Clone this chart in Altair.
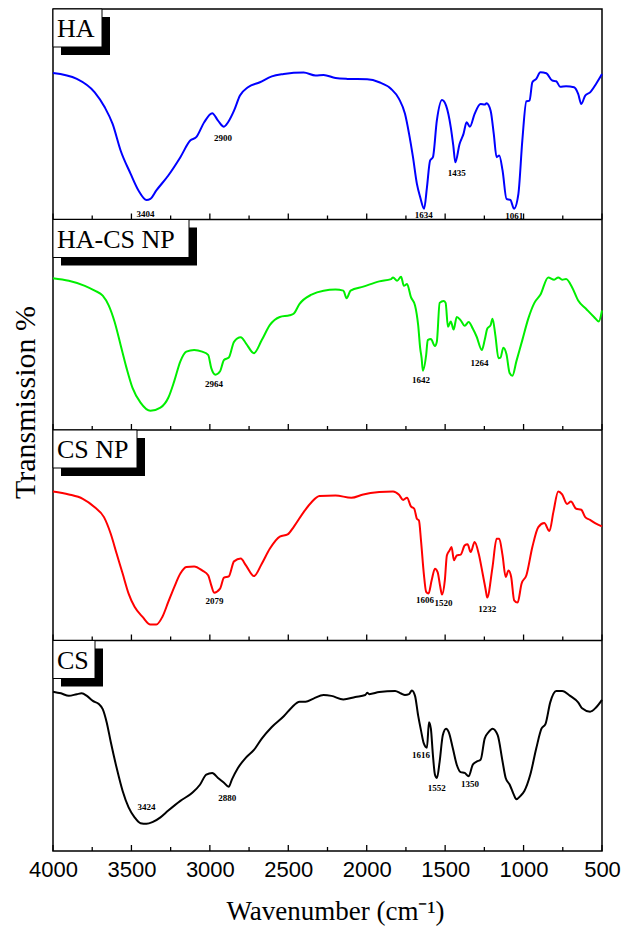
import altair as alt
import pandas as pd

# ---------------- data ----------------
series_names = ["HA", "HA-CS NP", "CS NP", "CS"]
series_colors = ["#0000FF", "#00EE00", "#FF0000", "#000000"]
panel_offsets = [300, 200, 100, 0]

ha_wn = [4000, 3848, 3734, 3670, 3620, 3569, 3505, 3455, 3404, 3379, 3341, 3265, 3188, 3125, 3087,
         3036, 2985, 2948, 2910, 2884, 2846, 2808, 2757, 2681, 2605, 2529, 2402, 2326, 2275, 2199,
         2123, 1997, 1920, 1844, 1794, 1756, 1730, 1705, 1680, 1659, 1634, 1616, 1596, 1578, 1553,
         1520, 1494, 1464, 1448, 1435, 1408, 1383, 1363, 1342, 1312, 1274, 1248, 1236, 1210, 1190,
         1172, 1155, 1134, 1109, 1084, 1061, 1033, 1008, 982, 962, 944, 919, 893, 855, 817,
         792, 767, 729, 678, 652, 632, 607, 576, 538, 500]
ha_val = [69.6, 66.8, 60.4, 53.3, 45.4, 32.8, 21.7, 13.8, 9.3, 9.8, 13.8, 20.9, 29.6, 37.5, 39.1,
          46.2, 50.5, 47.0, 44.1, 46.2, 51.7, 58.9, 62.8, 65.2, 68.0, 69.1, 69.8, 68.4, 68.7, 67.2,
          66.8, 66.6, 65.2, 62.0, 57.3, 50.2, 40.7, 29.6, 16.9, 10.6, 5.1, 15.3, 28.0, 29.6, 47.0,
          56.8, 54.1, 43.8, 35.1, 27.2, 35.9, 40.7, 46.2, 44.1, 50.2, 54.9, 54.6, 55.2, 51.7, 40.7,
          29.6, 30.4, 23.3, 9.8, 9.3, 5.1, 12.2, 37.5, 56.2, 56.5, 65.2, 66.8, 69.9, 69.5, 66.0,
          65.7, 63.1, 63.3, 62.8, 59.7, 54.9, 58.9, 60.4, 64.4, 69.1]

hacs_wn = [4000, 3899, 3797, 3734, 3683, 3645, 3607, 3569, 3531, 3493, 3442, 3379, 3315, 3265, 3227,
           3188, 3150, 3100, 3049, 3011, 2991, 2964, 2935, 2910, 2879, 2846, 2803, 2770, 2719, 2669,
           2618, 2554, 2491, 2466, 2428, 2352, 2275, 2199, 2149, 2128, 2103, 2022, 1920, 1844, 1832,
           1806, 1781, 1763, 1743, 1718, 1692, 1672, 1659, 1650, 1642, 1621, 1611, 1591, 1565, 1553,
           1535, 1510, 1497, 1482, 1464, 1446, 1426, 1401, 1375, 1350, 1324, 1299, 1266, 1248, 1231,
           1210, 1198, 1180, 1160, 1147, 1129, 1109, 1089, 1071, 1046, 1008, 970, 931, 893, 843,
           805, 779, 754, 729, 691, 652, 602, 551, 521, 500]
hacs_val = [72.1, 70.9, 68.5, 66.2, 63.8, 59.2, 51.3, 40.4, 29.4, 20.0, 13.0, 9.1, 10.6, 15.3, 23.2,
            32.6, 37.2, 38.0, 37.2, 35.7, 29.4, 26.3, 27.9, 33.3, 34.4, 41.9, 44.1, 41.2, 36.5, 42.7,
            49.8, 53.7, 54.5, 55.2, 59.9, 64.3, 66.2, 66.7, 66.2, 62.6, 66.2, 68.1, 70.6, 71.7, 72.5,
            70.9, 72.8, 68.5, 69.3, 63.1, 59.2, 49.8, 38.8, 34.1, 28.2, 35.7, 42.7, 43.2, 39.9, 41.9,
            60.4, 61.3, 60.4, 49.0, 51.6, 47.7, 53.7, 52.1, 49.5, 51.3, 48.2, 44.3, 38.0, 42.7, 48.2,
            49.8, 52.9, 45.1, 34.1, 34.4, 39.1, 36.0, 27.1, 25.8, 32.6, 42.7, 52.9, 60.4, 64.2, 72.5,
            71.4, 72.5, 71.4, 71.7, 67.8, 61.5, 57.6, 53.7, 51.6, 56.8]

csnp_wn = [4000, 3899, 3810, 3734, 3675, 3632, 3594, 3556, 3518, 3480, 3429, 3379, 3341, 3303, 3265,
           3227, 3188, 3150, 3100, 3049, 3011, 2991, 2973, 2935, 2910, 2879, 2846, 2803, 2770, 2719,
           2669, 2618, 2554, 2504, 2466, 2402, 2352, 2301, 2199, 2098, 2022, 1920, 1832, 1794, 1768,
           1743, 1718, 1697, 1680, 1667, 1654, 1636, 1621, 1606, 1586, 1565, 1548, 1532, 1520, 1502,
           1489, 1472, 1459, 1444, 1426, 1401, 1375, 1357, 1337, 1312, 1286, 1261, 1241, 1232, 1198,
           1172, 1155, 1134, 1114, 1096, 1079, 1060, 1038, 1013, 982, 944, 906, 868, 835, 810,
           779, 754, 723, 698, 665, 632, 607, 576, 538, 500]
csnp_val = [70.8, 69.4, 67.3, 63.3, 58.6, 50.7, 41.2, 31.8, 22.3, 16.0, 11.2, 7.6, 7.6, 11.2, 18.3,
            25.4, 31.8, 34.9, 35.2, 33.3, 31.0, 26.2, 22.7, 24.6, 29.9, 30.5, 37.6, 38.9, 35.7, 30.6,
            36.5, 43.6, 49.4, 50.4, 53.9, 61.0, 65.7, 68.6, 68.9, 67.8, 69.4, 70.5, 70.8, 69.2, 66.8,
            67.8, 63.7, 62.6, 57.8, 57.0, 47.6, 31.8, 23.1, 22.3, 28.6, 34.1, 32.5, 25.9, 21.8, 28.6,
            40.4, 42.8, 44.4, 38.1, 40.4, 40.8, 45.2, 45.7, 42.0, 46.8, 41.2, 31.8, 23.9, 20.4, 34.9,
            48.3, 48.3, 40.4, 30.2, 33.3, 30.2, 19.1, 18.0, 27.0, 31.0, 44.4, 53.9, 55.8, 52.0, 61.0,
            70.8, 69.4, 64.9, 66.0, 62.6, 62.1, 58.6, 57.3, 55.5, 54.2]

cs_wn = [4000, 3949, 3899, 3848, 3817, 3784, 3746, 3708, 3683, 3658, 3632, 3594, 3556, 3518, 3480,
         3442, 3404, 3366, 3315, 3265, 3188, 3112, 3062, 3023, 2985, 2948, 2910, 2880, 2859, 2821,
         2770, 2719, 2669, 2605, 2529, 2478, 2428, 2390, 2339, 2275, 2225, 2149, 2073, 2009, 1997,
         1984, 1920, 1819, 1781, 1756, 1730, 1712, 1692, 1672, 1654, 1636, 1616, 1603, 1591, 1578,
         1565, 1552, 1535, 1515, 1494, 1477, 1451, 1426, 1401, 1375, 1350, 1324, 1299, 1274, 1248,
         1223, 1198, 1165, 1134, 1114, 1089, 1063, 1046, 1020, 995, 957, 919, 886, 860, 830,
         792, 754, 703, 652, 627, 576, 538, 500]
cs_val = [75.7, 74.9, 73.7, 74.5, 74.9, 73.7, 71.3, 69.8, 67.4, 61.2, 51.9, 39.4, 28.5, 20.7, 16.0,
          13.2, 12.9, 13.7, 16.0, 19.2, 23.8, 27.7, 31.6, 36.3, 37.1, 34.7, 32.4, 30.5, 34.0, 39.4,
          44.4, 48.0, 53.4, 58.9, 64.0, 68.2, 70.9, 70.9, 72.4, 74.1, 73.7, 72.0, 73.2, 74.1, 75.2,
          74.5, 75.5, 76.0, 74.8, 74.1, 74.5, 76.3, 73.7, 64.3, 57.3, 51.1, 49.1, 61.2, 58.1, 45.6,
          36.3, 34.7, 42.5, 55.0, 58.1, 56.5, 48.8, 41.0, 37.5, 37.1, 35.5, 41.0, 42.5, 43.3, 53.4,
          56.5, 58.1, 55.0, 42.5, 34.7, 31.6, 26.9, 24.6, 26.2, 28.5, 36.3, 48.8, 58.1, 60.4, 70.6,
          76.0, 76.0, 73.7, 70.6, 67.8, 66.2, 68.2, 71.8]

# peak annotations: (series, text, wavenumber position, value position)
peak_series = ["HA", "HA", "HA", "HA", "HA",
               "HA-CS NP", "HA-CS NP", "HA-CS NP",
               "CS NP", "CS NP", "CS NP", "CS NP",
               "CS", "CS", "CS", "CS", "CS"]
peak_text = ["3404", "2900", "1634", "1435", "1061",
             "2964", "1642", "1264",
             "2079", "1606", "1520", "1232",
             "3424", "2880", "1616", "1552", "1350"]
peak_wn = [3410, 2917, 1636, 1426, 1060,
           2973, 1654, 1281,
           2970, 1629, 1510, 1231,
           3404, 2889, 1654, 1553, 1342]
peak_val = [2.4, 38.8, 2.0, 22.2, 1.9,
            21.9, 23.6, 31.8,
            18.6, 19.1, 17.9, 15.2,
            20.7, 25.1, 45.6, 29.8, 31.6]

major_ticks = [4000, 3500, 3000, 2500, 2000, 1500, 1000, 500]
minor_ticks = [3750, 3250, 2750, 2250, 1750, 1250, 750]
box_widths = [49, 136, 84, 42]

# ---------------- tables ----------------
wns = [ha_wn, hacs_wn, csnp_wn, cs_wn]
vals = [ha_val, hacs_val, csnp_val, cs_val]
frames = []
for name, wn, val, off in zip(series_names, wns, vals, panel_offsets):
    assert len(wn) == len(val), name
    frames.append(pd.DataFrame({"wn": wn, "val": val, "series": name,
                                "y": [v + off for v in val], "order": list(range(len(wn)))}))
lines_df = pd.concat(frames, ignore_index=True)

off_map = dict(zip(series_names, panel_offsets))
peaks_df = pd.DataFrame({"series": peak_series, "text": peak_text, "wn": peak_wn,
                         "y": [v + off_map[s] for s, v in zip(peak_series, peak_val)]})

bottoms = panel_offsets
ticks_major_df = pd.DataFrame([{"wn": t, "b": b} for b in bottoms for t in major_ticks])
ticks_minor_df = pd.DataFrame([{"wn": t, "b": b} for b in bottoms for t in minor_ticks])
bound_df = pd.DataFrame({"b": [100, 200, 300]})

W, H = 549, 842
xscale = alt.Scale(domain=[4000, 500], nice=False, zero=False)
yscale = alt.Scale(domain=[0, 400], nice=False, zero=False)

x_axis = alt.Axis(values=major_ticks, format="d", ticks=False, domain=False, grid=False,
                  labelFont="Liberation Sans", labelFontSize=22, labelColor="black",
                  labelFlush=False, labelOverlap=False, labelPadding=8,
                  title="Wavenumber (cm⁻¹)", titleFont="Liberation Serif", titleFontSize=27,
                  titleFontWeight="normal", titleColor="black", titleX=282, titleY=68,
                  titleBaseline="alphabetic", titleAlign="center")
y_axis = alt.Axis(ticks=False, labels=False, domain=False, grid=False,
                  title="Transmission %", titleFont="Liberation Serif", titleFontSize=30,
                  titleFontWeight="normal", titleColor="black", titleAngle=270,
                  titleX=-28, titleY=393, titleBaseline="middle", titleAlign="center")

lines = alt.Chart(lines_df).mark_line(strokeWidth=2, interpolate="monotone").encode(
    x=alt.X("wn:Q", scale=xscale, axis=x_axis),
    y=alt.Y("y:Q", scale=yscale, axis=y_axis),
    color=alt.Color("series:N", scale=alt.Scale(domain=series_names, range=series_colors), legend=None),
    detail="series:N",
    order="order:Q",
)

peaks = alt.Chart(peaks_df).mark_text(font="Liberation Serif", fontSize=9, fontWeight="bold",
                                      color="black", baseline="middle", align="center").encode(
    x=alt.X("wn:Q", scale=xscale), y=alt.Y("y:Q", scale=yscale), text="text:N")

bounds = alt.Chart(bound_df).mark_rule(color="black", strokeWidth=1.5).encode(
    y=alt.Y("b:Q", scale=yscale))

tmaj = alt.Chart(ticks_major_df).mark_rule(color="black", strokeWidth=1.3, y2Offset=-6).encode(
    x=alt.X("wn:Q", scale=xscale), y=alt.Y("b:Q", scale=yscale), y2="b:Q")
tmin = alt.Chart(ticks_minor_df).mark_rule(color="black", strokeWidth=1.3, y2Offset=-4).encode(
    x=alt.X("wn:Q", scale=xscale), y=alt.Y("b:Q", scale=yscale), y2="b:Q")

layers = [lines, peaks, bounds, tmaj, tmin]
one = pd.DataFrame({"k": [0]})
for name, off, w in zip(series_names, panel_offsets, box_widths):
    top = off + 100
    shadow = alt.Chart(one).mark_rect(color="black", yOffset=8, y2Offset=46).encode(
        x=alt.value(8), x2=alt.value(w + 8),
        y=alt.YDatum(top, scale=yscale), y2=alt.Y2Datum(top))
    box = alt.Chart(one).mark_rect(fill="white", stroke="black", strokeWidth=1, y2Offset=38).encode(
        x=alt.value(0), x2=alt.value(w),
        y=alt.YDatum(top, scale=yscale), y2=alt.Y2Datum(top))
    label = alt.Chart(one).mark_text(font="Liberation Serif", fontSize=26, color="black",
                                     align="left", baseline="middle", dx=4, dy=20).encode(
        x=alt.value(0), y=alt.YDatum(top, scale=yscale), text=alt.value(name))
    layers += [shadow, box, label]

chart = alt.layer(*layers).properties(
    width=W, height=H,
    autosize=alt.AutoSizeParams(type="none"),
    padding={"left": 45, "top": 1, "right": 21, "bottom": 75},
).configure_view(stroke="black", strokeWidth=1.5)

chart.save("out.html", embed_options={"renderer": "svg", "actions": False})
